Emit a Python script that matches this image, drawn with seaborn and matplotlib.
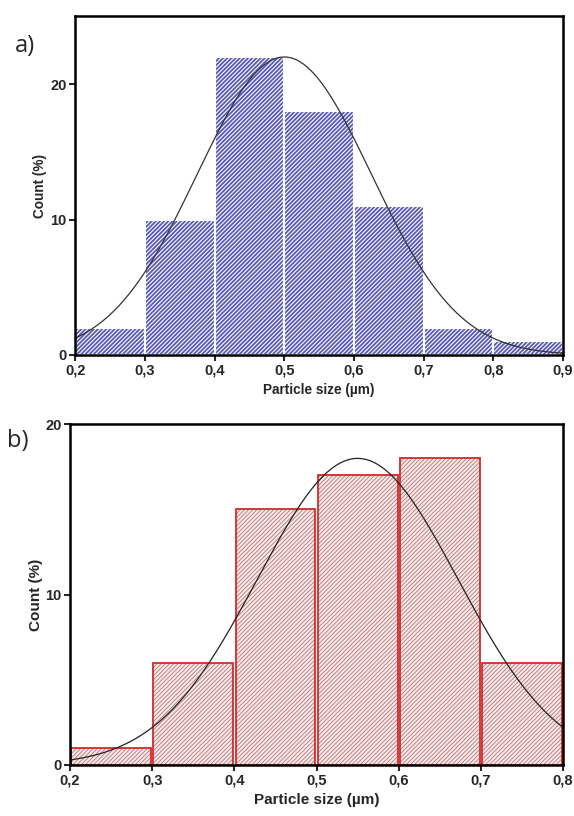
import numpy as np
import pandas as pd
import matplotlib

matplotlib.use("Agg")
import matplotlib.pyplot as plt
import seaborn as sns

# Datos panel a)
bins_a = [0.2, 0.3, 0.4, 0.5, 0.6, 0.7, 0.8, 0.9]
count_a = [2, 10, 22, 18, 11, 2, 1]
fit_a = {"amp": 22.0, "mu": 0.5, "sigma": 0.125}

# Datos panel b)
bins_b = [0.2, 0.3, 0.4, 0.5, 0.6, 0.7, 0.8]
count_b = [1, 6, 15, 17, 18, 6]
fit_b = {"amp": 18.0, "mu": 0.55, "sigma": 0.122}

sns.set_style("ticks")
plt.rcParams["font.family"] = ["Liberation Sans", "DejaVu Sans"]


def centros(bins):
    return [(bins[i] + bins[i + 1]) / 2 for i in range(len(bins) - 1)]


def gauss(x, p):
    return p["amp"] * np.exp(-((x - p["mu"]) ** 2) / (2 * p["sigma"] ** 2))


def estilo(ax, bins, ymax, yticks, fs_lab):
    ax.set_xlim(bins[0], bins[-1])
    ax.set_ylim(0, ymax)
    ax.set_xticks(bins)
    ax.set_xticklabels([f"{b:.1f}".replace(".", ",") for b in bins],
                       fontsize=10.5, fontweight="bold")
    ax.set_yticks(yticks)
    ax.set_yticklabels([str(t) for t in yticks], fontsize=10.5, fontweight="bold")
    ax.set_xlabel("Particle size (µm)", fontsize=fs_lab, fontweight="bold")
    ax.set_ylabel("Count (%)", fontsize=fs_lab, fontweight="bold")
    for s in ax.spines.values():
        s.set_linewidth(1.8)
        s.set_color("black")
    ax.tick_params(direction="out", length=4, width=1.5, pad=2)


fig = plt.figure(figsize=(5.74, 8.16), dpi=100)
ax1 = fig.add_axes([0.131, 0.565, 0.850, 0.415])
ax2 = fig.add_axes([0.122, 0.0625, 0.859, 0.4175])

# Panel a
plt.rcParams["hatch.linewidth"] = 0.8
df_a = pd.DataFrame({"x": centros(bins_a), "w": count_a})
sns.histplot(data=df_a, x="x", weights="w", bins=bins_a, ax=ax1,
             color="#5858b6", alpha=1, edgecolor="white", linewidth=1.5)
for p in ax1.patches:
    p.set_hatch("////////")
xs = np.linspace(bins_a[0], bins_a[-1], 300)
ax1.plot(xs, gauss(xs, fit_a), color="#333333", lw=0.9)
estilo(ax1, bins_a, 25, [0, 10, 20], 9.8)
ax1.yaxis.set_label_coords(-0.058, 0.5)

# Panel b
plt.rcParams["hatch.linewidth"] = 0.6
df_b = pd.DataFrame({"x": centros(bins_b), "w": count_b})
sns.histplot(data=df_b, x="x", weights="w", bins=bins_b, ax=ax2, shrink=0.97,
             color="#fae8e8", alpha=1, edgecolor="#b07878", linewidth=0)
for p in ax2.patches:
    p.set_hatch("////////")
sns.histplot(data=df_b, x="x", weights="w", bins=bins_b, ax=ax2, shrink=0.97,
             fill=False, color="#d42a2a", linewidth=1.3)
xs = np.linspace(bins_b[0], bins_b[-1], 300)
ax2.plot(xs, gauss(xs, fit_b), color="#222222", lw=0.9)
estilo(ax2, bins_b, 20, [0, 10, 20], 11)
ax2.yaxis.set_label_coords(-0.054, 0.5)

fig.text(0.026, 0.936, "a)", fontsize=17, family=["Open Sans", "DejaVu Sans"])
fig.text(0.012, 0.452, "b)", fontsize=17, family=["Open Sans", "DejaVu Sans"])

plt.savefig("out.png", dpi=100)
plt.close()
